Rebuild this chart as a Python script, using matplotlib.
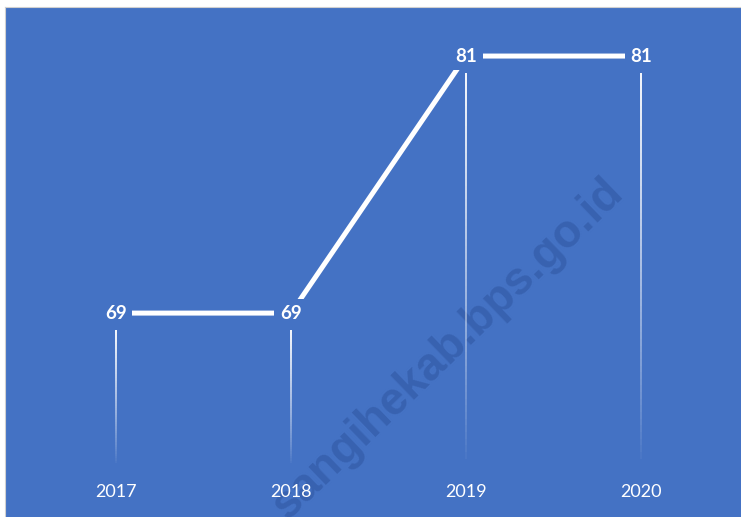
import numpy as np
import matplotlib as mpl
mpl.use('Agg')
import matplotlib.pyplot as plt
from matplotlib.collections import LineCollection

# data
years = [2017, 2018, 2019, 2020]
values = [69, 69, 81, 81]

BLUE = '#4472c4'

W, H = 741, 517
fig = plt.figure(figsize=(W / 100, H / 100), dpi=100, facecolor='white')
ax = fig.add_axes([5 / W, 0, 736 / W, 510 / H])
ax.set_facecolor(BLUE)
for s in ax.spines.values():
    s.set_visible(False)
ax.spines['top'].set_visible(True)
ax.spines['left'].set_visible(True)
ax.spines['top'].set_color('#d0d0d0')
ax.spines['left'].set_color('#d0d0d0')
ax.set_xticks([])
ax.set_yticks([])

ax.set_xlim(2016.366, 2020.571)
ax.set_ylim(59.48, 83.29)

# watermark, anchored at its end
ax.text(2019.91, 74.5, 'sangihekab.bps.go.id', rotation=44,
        rotation_mode='anchor', fontsize=33, fontweight='bold',
        color='#3862b0', ha='right', va='baseline',
        family='Liberation Sans', zorder=1, clip_on=True)

# main line
ax.plot(years, values, color='white', lw=3.6, solid_capstyle='butt', zorder=3)

# fading drop lines
drop_bottom = 61.9
for x, v in zip(years, values):
    top = v - 0.8
    ys = np.linspace(top, drop_bottom, 60)
    segs = [[(x, ys[i]), (x, ys[i + 1])] for i in range(len(ys) - 1)]
    a = np.linspace(0.95, 0.0, len(segs)) ** 0.8
    cols = [(1, 1, 1, ai) for ai in a]
    ax.add_collection(LineCollection(segs, colors=cols, linewidths=1.4, zorder=2))

# data labels
for x, v in zip(years, values):
    ax.text(x, v, str(v), color='white', fontsize=13.5, fontweight='bold',
            ha='center', va='center', family='Lato', zorder=5,
            bbox=dict(boxstyle='square,pad=0.3', fc=BLUE, ec='none'))

# year labels
for x in years:
    ax.text(x, 60.64, str(x), color='white', fontsize=13, ha='center',
            va='center', family='Lato', zorder=5)

fig.savefig('out.png', dpi=100, facecolor='white')
